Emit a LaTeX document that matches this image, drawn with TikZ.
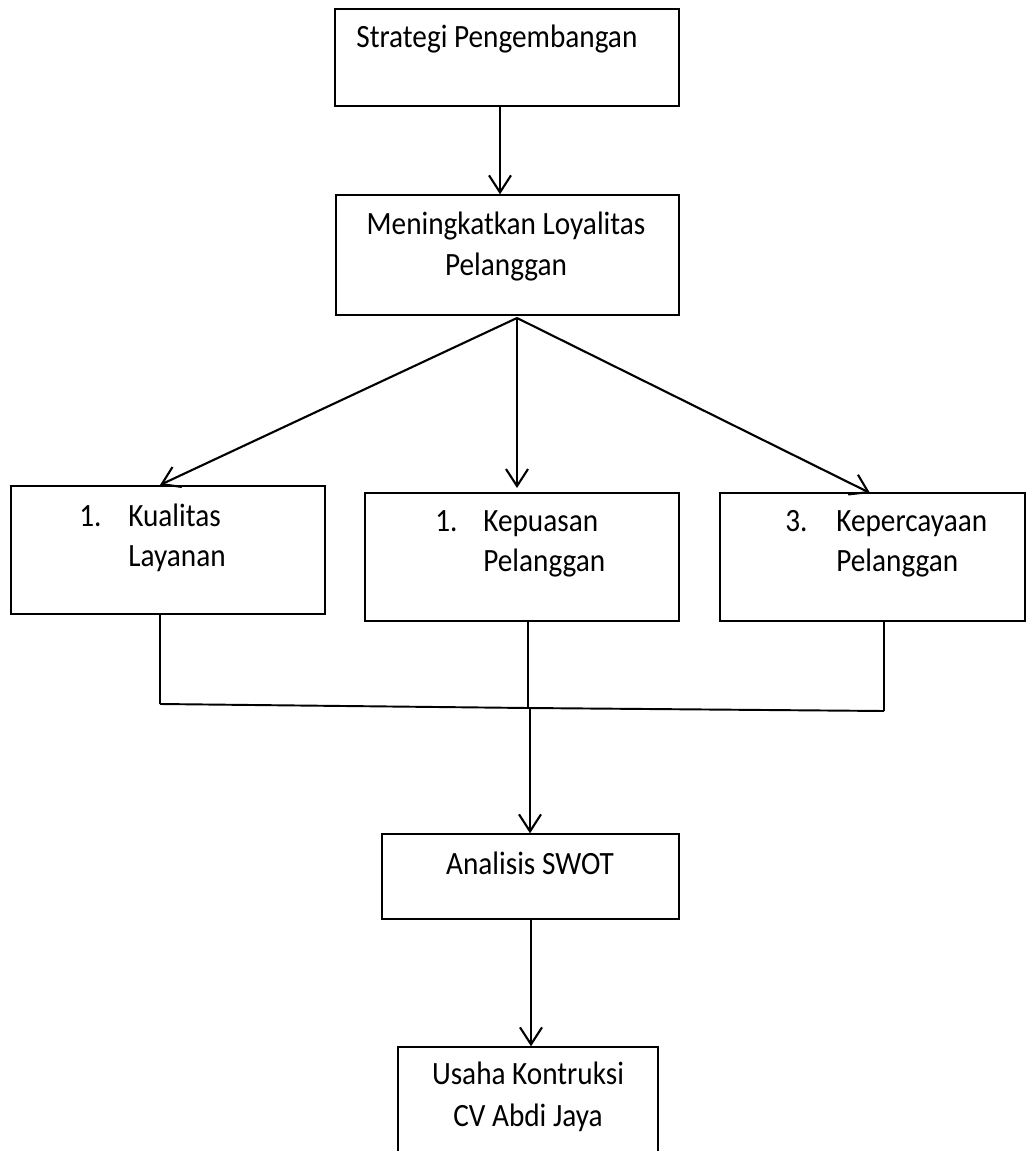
\documentclass[tikz,border=0pt]{standalone}
\usepackage{fontspec}
\setmainfont{Carlito}[FakeStretch=0.9]
\usetikzlibrary{arrows.meta}
\begin{document}
\begin{tikzpicture}[x=0.02cm,y=-0.02cm,
  box/.style={draw, line width=0.8pt, inner sep=0pt},
  txt/.style={inner sep=0pt, font=\fontsize{18.5}{24}\selectfont},
  arr/.style={line width=1.2pt, -{Straight Barb[length=3.4mm,width=4.4mm,line width=1.2pt]}},
  ln/.style={line width=1.1pt}]
\useasboundingbox (0,0) rectangle (1026,1151);
\clip (0,0) rectangle (1026,1151);
% boxes
\node[box, minimum width=344*0.02cm, minimum height=97*0.02cm] (b1) at (507,57.5) {};
\node[box, minimum width=343*0.02cm, minimum height=120*0.02cm] (b2) at (507.5,255) {};
\node[box, minimum width=314*0.02cm, minimum height=128*0.02cm] (b3) at (168,550) {};
\node[box, minimum width=314*0.02cm, minimum height=128*0.02cm] (b4) at (522,557) {};
\node[box, minimum width=305*0.02cm, minimum height=128*0.02cm] (b5) at (872.5,557) {};
\node[box, minimum width=297*0.02cm, minimum height=85*0.02cm] (b6) at (530.5,876.5) {};
\node[box, minimum width=260*0.02cm, minimum height=113*0.02cm] (b7) at (528,1103.5) {};
% texts
\node[txt, anchor=base west] (t1) at (356,48) {Strategi Pengembangan};
\node[txt, anchor=base] (t2a) at (506,235) {Meningkatkan Loyalitas};
\node[txt, anchor=base] (t2b) at (506,276) {Pelanggan};
\node[txt, anchor=base west] (n3) at (79,526) {1.};
\node[txt, anchor=base west] (t3a) at (128,526) {Kualitas};
\node[txt, anchor=base west] (t3b) at (128,566) {Layanan};
\node[txt, anchor=base west] (n4) at (435,531) {1.};
\node[txt, anchor=base west] (t4a) at (483,531) {Kepuasan};
\node[txt, anchor=base west] (t4b) at (483,571) {Pelanggan};
\node[txt, anchor=base west] (n5) at (785,531) {3.};
\node[txt, anchor=base west] (t5a) at (836,531) {Kepercayaan};
\node[txt, anchor=base west] (t5b) at (836,571) {Pelanggan};
\node[txt, anchor=base] (t6) at (530,874) {Analisis SWOT};
\node[txt, anchor=base] (t7a) at (528,1084) {Usaha Kontruksi};
\node[txt, anchor=base] (t7b) at (528,1126) {CV Abdi Jaya};
% connectors
\draw[arr] (b1.south -| 500,0) -- (b2.north -| 500,0);
\coordinate (fan) at (517,318);
\coordinate (tipL) at (160,485);
\coordinate (tipM) at (517,488);
\coordinate (tipR) at (870,493);
\draw[arr] (fan) -- (tipL);
\draw[arr] (fan) -- (tipM);
\draw[arr] (fan) -- (tipR);
\coordinate (jL) at (160,704);
\coordinate (jM) at (528,708);
\coordinate (jR) at (884,711);
\draw[ln] (b3.south -| jL) -- (jL);
\draw[ln] (b4.south -| jM) -- (jM);
\draw[ln] (b5.south -| jR) -- (jR);
\draw[ln] (jL) -- (jM) -- (jR);
\draw[arr] (530,708) -- (b6.north -| 530,0);
\draw[arr] (b6.south -| 531,0) -- (b7.north -| 531,0);
\end{tikzpicture}
\end{document}
